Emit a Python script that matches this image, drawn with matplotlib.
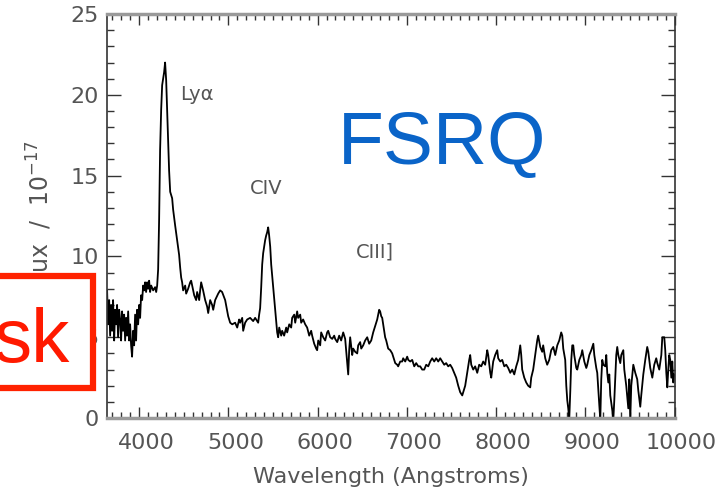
import matplotlib.pyplot as plt
import matplotlib.transforms as mtransforms
from matplotlib.patches import Rectangle
from matplotlib.ticker import MultipleLocator

# observed-frame spectrum of the quasar (flux in units of 1e-17 erg/s/cm^2/A)
wavelength = [
    3641, 3652, 3664, 3675, 3686, 3697, 3708, 3720, 3731, 3742, 3753, 3764,
    3776, 3787, 3798, 3809, 3820, 3832, 3843, 3854, 3865, 3877, 3888, 3899,
    3910, 3921, 3933, 3944, 3955, 3966, 3977, 3989, 4000, 4011, 4022, 4034,
    4045, 4056, 4067, 4078, 4090, 4101, 4112, 4123, 4135, 4157, 4179, 4191,
    4202, 4213, 4224, 4235, 4247, 4258, 4269, 4280, 4291, 4303, 4314, 4325,
    4336, 4348, 4359, 4370, 4381, 4404, 4426, 4448, 4460, 4471, 4482, 4493,
    4516, 4527, 4549, 4572, 4583, 4594, 4617, 4639, 4650, 4673, 4684, 4695,
    4717, 4740, 4762, 4774, 4796, 4818, 4830, 4852, 4886, 4908, 4930, 4964,
    4998, 5020, 5043, 5076, 5099, 5121, 5132, 5155, 5166, 5188, 5211, 5244,
    5278, 5300, 5334, 5345, 5356, 5368, 5379, 5390, 5412, 5424, 5435, 5446,
    5457, 5469, 5480, 5502, 5525, 5536, 5547, 5558, 5570, 5592, 5603, 5625,
    5648, 5659, 5682, 5704, 5715, 5738, 5749, 5771, 5782, 5805, 5816, 5838,
    5861, 5883, 5906, 5928, 5939, 5962, 5984, 5995, 6007, 6029, 6040, 6063,
    6085, 6107, 6119, 6141, 6164, 6186, 6197, 6220, 6242, 6264, 6287, 6309,
    6320, 6332, 6343, 6354, 6365, 6376, 6388, 6399, 6421, 6444, 6455, 6477,
    6489, 6511, 6533, 6556, 6578, 6601, 6623, 6645, 6668, 6679, 6690, 6701,
    6713, 6724, 6746, 6757, 6769, 6791, 6814, 6836, 6858, 6870, 6892, 6903,
    6926, 6948, 6959, 6982, 7004, 7016, 7038, 7060, 7083, 7105, 7128, 7150,
    7172, 7195, 7217, 7240, 7262, 7284, 7307, 7329, 7352, 7374, 7396, 7419,
    7441, 7464, 7486, 7508, 7531, 7553, 7576, 7598, 7621, 7632, 7654, 7677,
    7699, 7710, 7722, 7744, 7766, 7789, 7811, 7834, 7856, 7878, 7901, 7912,
    7935, 7946, 7968, 7990, 8013, 8024, 8047, 8069, 8092, 8114, 8136, 8159,
    8181, 8204, 8226, 8248, 8271, 8282, 8293, 8316, 8338, 8360, 8383, 8394,
    8416, 8439, 8461, 8472, 8495, 8517, 8528, 8551, 8573, 8596, 8618, 8641,
    8663, 8686, 8708, 8730, 8742, 8753, 8775, 8787, 8798, 8809, 8820, 8832,
    8843, 8854, 8865, 8876, 8899, 8910, 8933, 8955, 8966, 8989, 9011, 9022,
    9045, 9067, 9090, 9101, 9123, 9134, 9146, 9157, 9168, 9179, 9190, 9202,
    9224, 9235, 9246, 9258, 9269, 9280, 9302, 9314, 9325, 9347, 9358, 9370,
    9392, 9403, 9426, 9437, 9459, 9471, 9482, 9493, 9504, 9515, 9538, 9560,
    9582, 9594, 9616, 9627, 9650, 9672, 9694, 9706, 9728, 9751, 9773, 9795,
    9807, 9829, 9852, 9863, 9885, 9896, 9908, 9919, 9930, 9941, 9952, 9964,
    9975, 9986, 9997,
]
flux = [
    7.9, 5.8, 7.3, 5.1, 7.0, 5.4, 7.3, 4.8, 6.7, 5.8, 7.0, 5.0,
    6.7, 6.1, 4.8, 6.6, 5.4, 6.4, 4.8, 6.2, 5.1, 6.6, 4.8, 5.8,
    4.5, 3.8, 5.4, 4.5, 6.4, 4.8, 6.7, 5.8, 7.0, 6.2, 7.6, 7.3,
    8.2, 7.9, 8.4, 7.8, 8.4, 8.0, 8.5, 7.8, 8.2, 7.9, 8.1, 7.8,
    8.2, 9.2, 12.3, 16.6, 19.1, 20.6, 21.0, 21.4, 22.0, 20.9, 19.1, 17.2,
    15.3, 14.0, 13.8, 13.6, 12.9, 11.9, 11.0, 10.1, 9.3, 8.7, 8.4, 7.9,
    8.2, 7.7, 8.0, 8.4, 8.5, 8.2, 7.6, 7.3, 7.8, 7.3, 7.9, 8.4,
    7.9, 7.3, 6.9, 6.5, 7.3, 7.0, 6.7, 7.3, 7.7, 7.9, 7.8, 7.3,
    6.3, 5.9, 5.8, 5.9, 5.6, 6.1, 5.9, 6.2, 5.4, 5.9, 6.1, 6.2,
    6.0, 6.2, 5.9, 6.4, 6.8, 8.1, 9.5, 10.2, 11.0, 11.3, 11.5, 11.8,
    11.3, 10.6, 9.5, 8.1, 6.7, 5.9, 5.3, 5.0, 5.6, 5.1, 5.4, 5.1,
    5.6, 5.3, 5.8, 5.6, 6.2, 6.4, 5.9, 6.6, 6.2, 6.4, 5.9, 6.1,
    5.8, 5.6, 5.1, 5.4, 5.1, 4.6, 4.3, 4.2, 4.8, 4.5, 5.3, 5.0,
    4.8, 5.3, 5.4, 5.0, 4.9, 5.1, 4.9, 4.7, 5.1, 4.8, 5.3, 4.9,
    4.2, 3.5, 2.7, 4.2, 5.0, 4.5, 3.9, 4.3, 4.1, 4.0, 4.5, 4.7,
    4.3, 4.5, 4.8, 5.0, 4.6, 4.8, 5.3, 5.7, 6.1, 6.4, 6.7, 6.6,
    6.3, 6.2, 5.4, 5.0, 4.8, 4.3, 4.2, 4.0, 3.6, 3.4, 3.3, 3.2,
    3.5, 3.5, 3.7, 3.5, 3.8, 3.6, 3.5, 3.6, 3.2, 3.4, 3.2, 3.2,
    3.0, 3.0, 3.3, 3.2, 3.5, 3.7, 3.5, 3.7, 3.5, 3.7, 3.5, 3.3,
    3.4, 3.2, 3.3, 3.1, 2.8, 2.5, 2.0, 1.6, 1.4, 1.6, 2.0, 2.8,
    3.6, 3.9, 3.3, 3.0, 3.2, 2.8, 3.3, 3.2, 3.5, 3.3, 4.2, 3.9,
    2.8, 2.5, 3.5, 3.9, 4.2, 3.7, 3.5, 3.6, 3.2, 3.3, 3.1, 2.8,
    3.0, 2.7, 3.2, 3.6, 4.5, 3.9, 3.0, 2.5, 2.2, 2.0, 1.9, 2.5,
    3.0, 3.9, 4.8, 5.1, 4.4, 4.1, 4.5, 3.7, 3.3, 3.6, 4.2, 4.4,
    3.9, 4.5, 4.8, 5.3, 5.1, 4.3, 3.6, 2.0, 1.1, 0.6, -0.1, 1.7,
    3.6, 4.5, 4.5, 3.9, 3.1, 3.0, 3.6, 3.9, 4.2, 3.5, 3.1, 3.3,
    3.9, 4.2, 4.6, 3.9, 3.1, 2.8, 1.7, 0.8, -0.1, 2.4, 3.6, 3.3,
    3.2, 3.9, 2.8, 2.2, 2.7, 1.4, 0.5, -0.1, 1.1, 3.9, 4.4, 3.9,
    3.4, 3.9, 4.2, 3.0, 2.0, 1.3, 0.6, 2.4, -0.1, 2.0, 3.3, 2.8,
    2.4, 1.7, 0.7, 1.4, 2.7, 3.6, 4.4, 4.1, 3.1, 2.5, 3.3, 3.7,
    3.4, 3.0, 3.9, 5.0, 5.0, 4.2, 2.8, 1.9, 3.0, 3.9, 3.6, 2.5,
    3.5, 2.2, 2.7,
]

# emission lines: label, wavelength and flux where the label sits
line_names = ['Ly\u03b1', 'CIV', 'CIII]']
line_wave = [4650, 5420, 6640]
line_flux = [20.0, 14.2, 10.3]

axis_grey = '#9a9a9a'
text_grey = '#555555'

fig = plt.figure(figsize=(7.26, 4.93), dpi=100)
ax = fig.add_axes([0.1474, 0.152, 0.7817, 0.8195])

ax.plot(wavelength, flux, color='black', lw=1.3)

ax.set_xlim(3640, 10000)
ax.set_ylim(0, 25)
ax.xaxis.set_major_locator(MultipleLocator(1000))
ax.xaxis.set_minor_locator(MultipleLocator(100))
ax.yaxis.set_major_locator(MultipleLocator(5))
ax.yaxis.set_minor_locator(MultipleLocator(1))

ax.tick_params(which='both', direction='in', top=True, right=True,
               colors='#333333', labelcolor=text_grey, labelsize=16)
ax.tick_params(axis='x', which='major', length=8, width=1, pad=11)
ax.tick_params(axis='x', which='minor', length=4, width=1)
ax.tick_params(axis='y', which='major', length=10, width=1, pad=6)
ax.tick_params(axis='y', which='minor', length=5, width=1)

# x tick labels sit a little to the right of their ticks
shift = mtransforms.ScaledTranslation(7 / 100, 0, fig.dpi_scale_trans)
for lbl in ax.get_xticklabels():
    lbl.set_transform(lbl.get_transform() + shift)

for side in ['top', 'bottom']:
    ax.spines[side].set_color(axis_grey)
    ax.spines[side].set_linewidth(2.5)
for side in ['left', 'right']:
    ax.spines[side].set_color('#333333')
    ax.spines[side].set_linewidth(1.2)

ax.set_xlabel('Wavelength (Angstroms)', fontsize=16, color=text_grey,
              labelpad=10)
ax.set_ylabel(r'Flux  /  10$^{-17}$', fontsize=17, color=text_grey,
              labelpad=12)

for name, wl, fl in zip(line_names, line_wave, line_flux):
    ax.text(wl, fl, name, fontsize=14, color=text_grey, ha='center',
            va='center')

fig.text(0.465, 0.668, 'FSRQ', fontsize=54, color='#0a64c8',
         family='Liberation Sans', va='baseline')

# red highlight box on the left edge
box = Rectangle((-0.02, 0.213), 0.148, 0.228, transform=fig.transFigure,
                facecolor='white', edgecolor='#ff2200', lw=4.5, zorder=5)
fig.patches.append(box)
fig.text(-0.008, 0.265, 'sk', fontsize=55, color='#ff1a00',
         family='Liberation Sans', va='baseline', zorder=6)

fig.savefig('out.png', dpi=100)
